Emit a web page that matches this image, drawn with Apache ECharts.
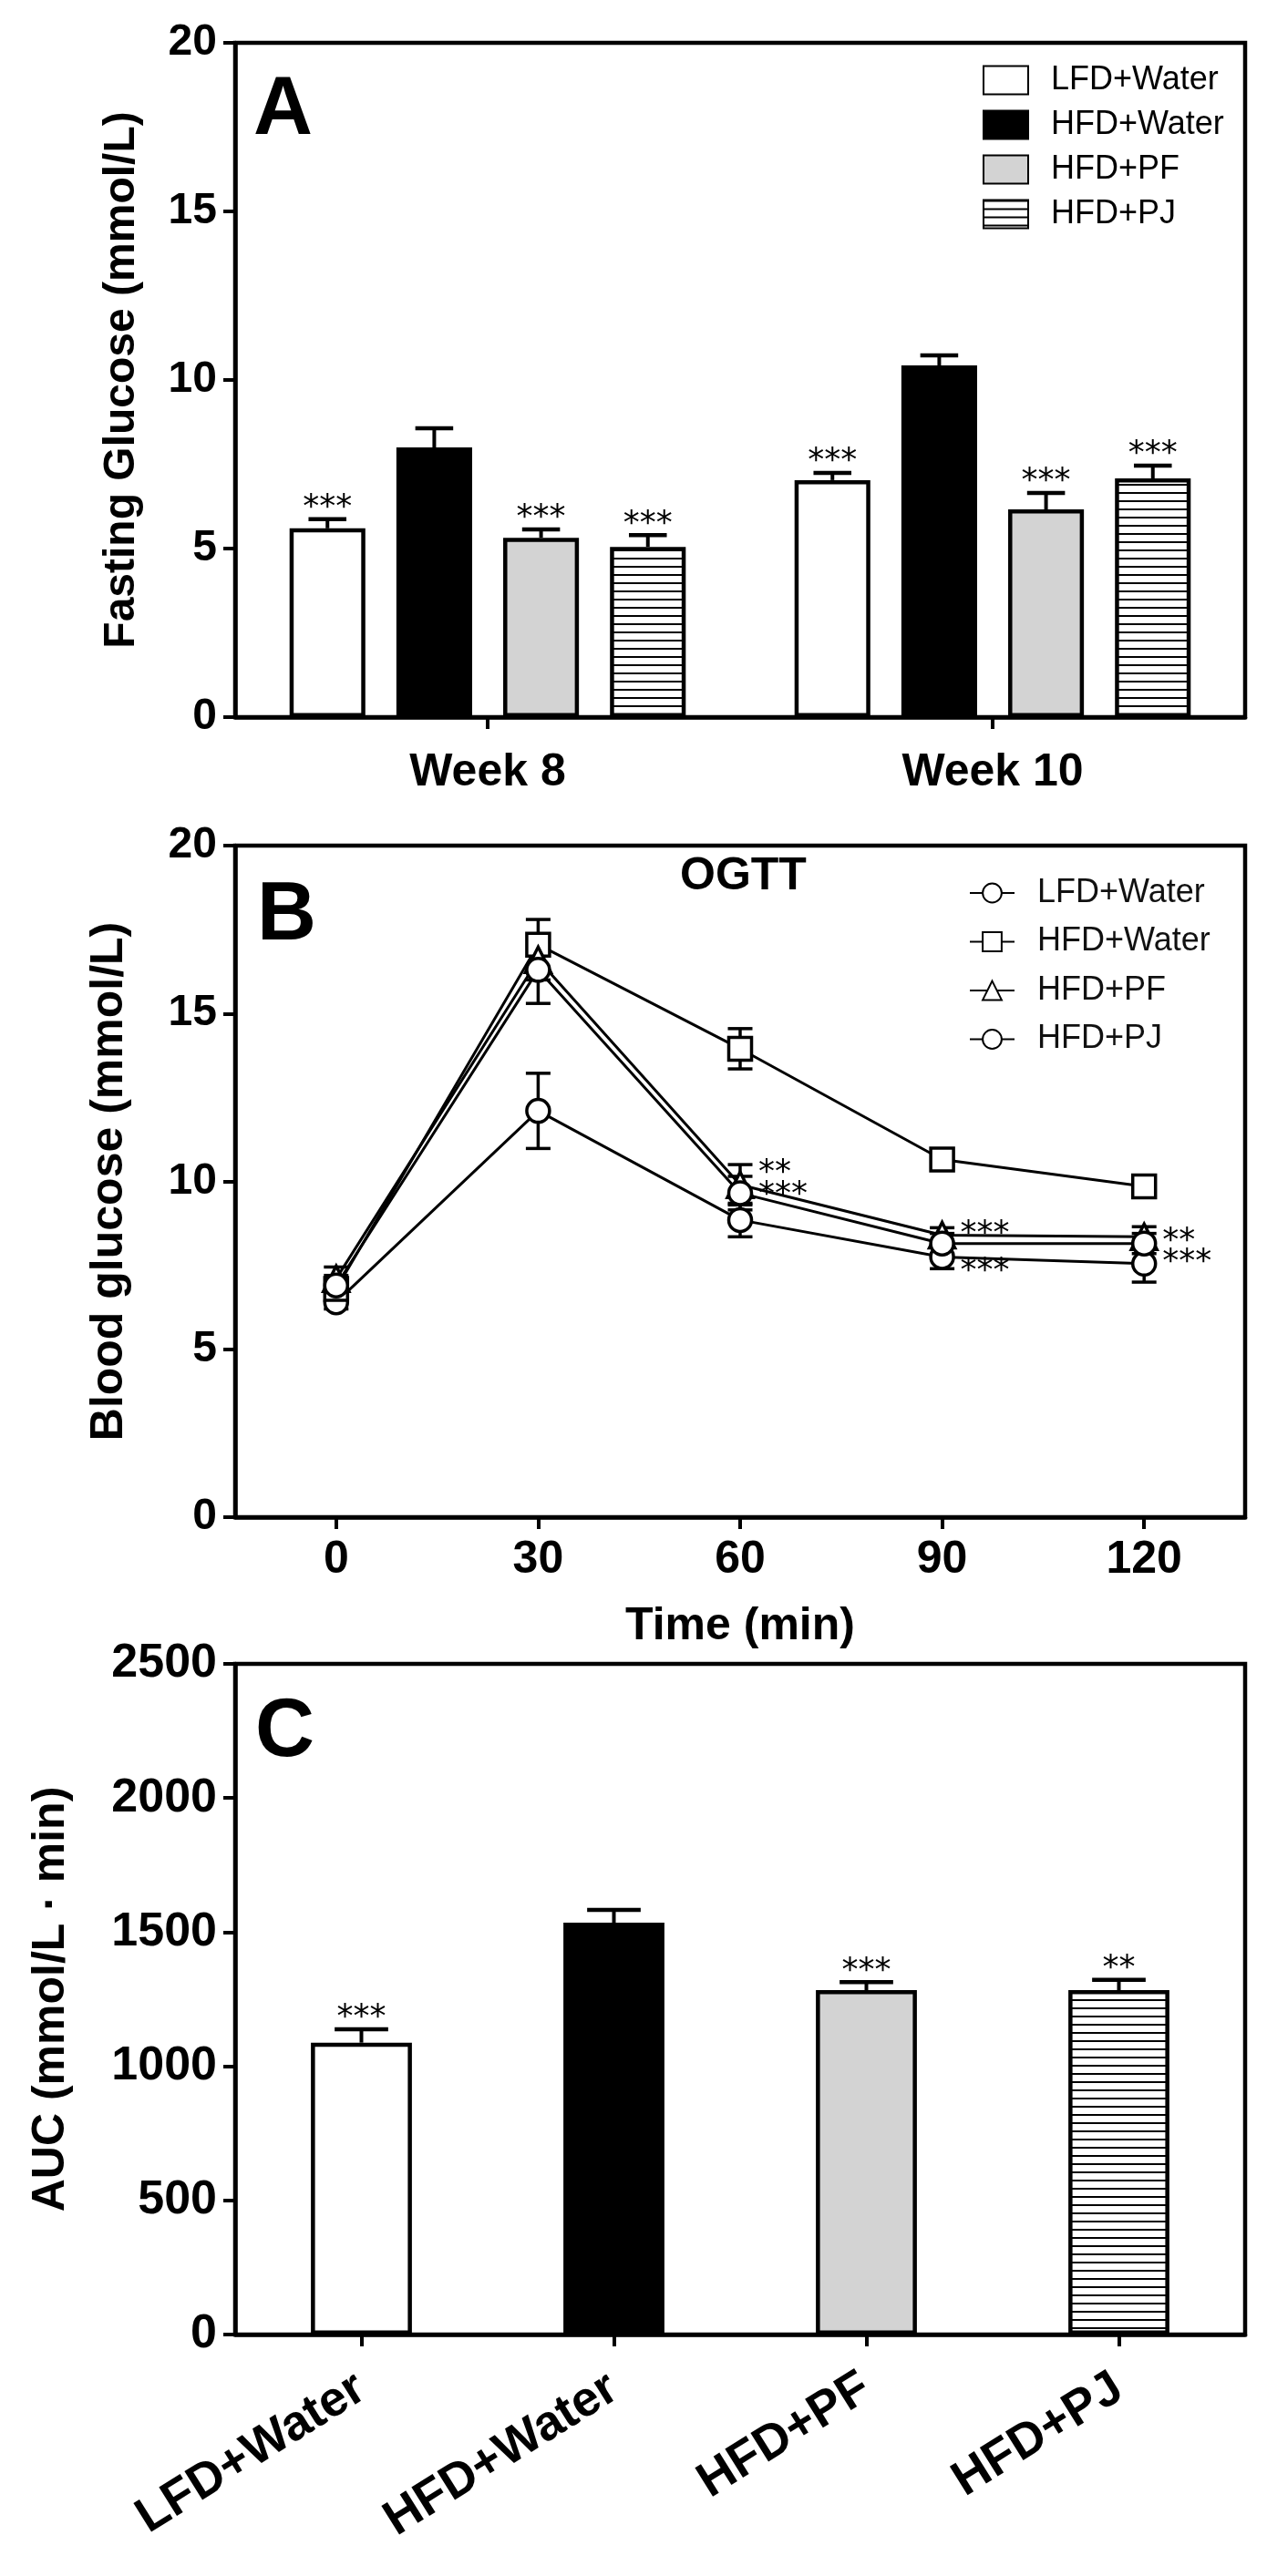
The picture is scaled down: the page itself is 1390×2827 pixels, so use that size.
<!DOCTYPE html>
<html><head><meta charset="utf-8">
<script src="https://cdn.jsdelivr.net/npm/echarts@6/dist/echarts.min.js"></script>
<style>
html,body{margin:0;padding:0;background:#fff;}
#wrap{position:relative;width:1390px;height:2827px;overflow:hidden;}
.ch{position:absolute;left:0;width:1390px;}
</style></head><body>
<div id="wrap">
<div id="cA" class="ch" style="top:0;height:900px"></div>
<div id="cB" class="ch" style="top:880px;height:960px"></div>
<div id="cC" class="ch" style="top:1780px;height:1047px"></div>
</div>
<script>
// ---------- DATA ----------
const groups = ['LFD+Water', 'HFD+Water', 'HFD+PF', 'HFD+PJ'];
const weeks = ['Week 8', 'Week 10'];
// Panel A: fasting glucose (mmol/L), [Week 8, Week 10]
const fgLFD = [5.60, 7.03];
const fgHFD = [8.00, 10.43];
const fgPF  = [5.32, 6.16];
const fgPJ  = [5.05, 7.08];
const fgErrLFD = [0.27, 0.21];
const fgErrHFD = [0.57, 0.30];
const fgErrPF  = [0.25, 0.49];
const fgErrPJ  = [0.35, 0.38];
const fgStarsLFD = ['***', '***'];
const fgStarsHFD = ['', ''];
const fgStarsPF  = ['***', '***'];
const fgStarsPJ  = ['***', '***'];
const fgTicks = [0, 5, 10, 15, 20];
// Panel B: OGTT blood glucose (mmol/L)
const ogttTime = [0, 30, 60, 90, 120];
const ogLFD = [6.40, 12.10, 8.85, 7.75, 7.55];
const ogHFD = [6.80, 17.05, 13.95, 10.65, 9.85];
const ogPF  = [7.10, 16.60, 9.90, 8.40, 8.35];
const ogPJ  = [6.90, 16.30, 9.65, 8.15, 8.15];
const ogErrLFD = [0.20, 1.12, 0.50, 0.35, 0.55];
const ogErrHFD = [0.30, 0.75, 0.60, 0.20, 0.20];
const ogErrPF  = [0.35, 0.60, 0.60, 0.22, 0.30];
const ogErrPJ  = [0.30, 1.00, 0.50, 0.30, 0.30];
const ogStarTime  = [60, 60, 90, 90, 120, 120];
const ogStarLevel = [10.45, 9.80, 8.63, 7.53, 8.41, 7.79];
const ogStarText  = ['**', '***', '***', '***', '**', '***'];
const timeTicks = [0, 30, 60, 90, 120];
// Panel C: AUC (mmol/L·min)
const aucMean = [1088, 1535, 1284, 1284];
const aucErr  = [50, 48, 30, 38];
const aucStars = ['***', '', '***', '**'];
const aucTicks = [0, 500, 1000, 1500, 2000, 2500];

// ---------- STYLE ----------
const FONT = "'Liberation Sans', Arial, Helvetica, sans-serif";
const STAR_FONT = "36px 'DejaVu Sans', sans-serif";
function stripes() {
  const c = document.createElement('canvas');
  c.width = 8; c.height = 9;
  const g = c.getContext('2d');
  g.fillStyle = '#fff'; g.fillRect(0, 0, 8, 9);
  g.fillStyle = '#000'; g.fillRect(0, 0, 8, 2);
  return c;
}
const fills = ['#ffffff', '#000000', '#d3d3d3', { image: stripes(), repeat: 'repeat' }];
const symbols = ['circle', 'rect', 'triangle', 'circle'];

const axisLine = { show: true, onZero: false, lineStyle: { color: '#000', width: 4.5 } };
const axisTick = { show: true, length: 13, lineStyle: { color: '#000', width: 4 } };
const gridBox = { show: true, borderColor: '#000', borderWidth: 4.5, backgroundColor: 'transparent' };
function yLabel(size) { return { fontFamily: FONT, fontWeight: 'bold', fontSize: size, color: '#000', margin: 20, formatter: v => String(v) }; }
function nameStyle(size) { return { fontFamily: FONT, fontWeight: 'bold', fontSize: size, color: '#000' }; }
function letter(t, l, tp) {
  return { text: t, left: l, top: tp, textStyle: { fontFamily: FONT, fontWeight: 'bold', fontSize: 90, color: '#000' } };
}

// ---------- PANEL A ----------
const fgMeans = [fgLFD, fgHFD, fgPF, fgPJ];
const fgErrs = [fgErrLFD, fgErrHFD, fgErrPF, fgErrPJ];
const fgStars = [fgStarsLFD, fgStarsHFD, fgStarsPF, fgStarsPJ];
const BW_A = 0.15, GAP_A = 0.41;
const errRowsA = [];
weeks.forEach((w, wi) => groups.forEach((g, gi) => {
  errRowsA.push([wi, fgMeans[gi][wi], fgErrs[gi][wi], gi, fgStars[gi][wi]]);
}));
function renderErrA(params, api) {
  const r = errRowsA[params.dataIndex];
  const band = api.size([1, 0])[0];
  const bw = band * BW_A, gap = bw * GAP_A, total = 4 * bw + 3 * gap;
  const c0 = api.coord([r[0], 0])[0];
  const cx = c0 - total / 2 + bw / 2 + r[3] * (bw + gap);
  const yv = api.coord([r[0], r[1]])[1];
  const ye = api.coord([r[0], r[1] + r[2]])[1];
  const cap = bw * 0.5;
  const ch = [
    { type: 'line', shape: { x1: cx, y1: yv, x2: cx, y2: ye }, style: { stroke: '#000', lineWidth: 4 } },
    { type: 'line', shape: { x1: cx - cap / 2, y1: ye, x2: cx + cap / 2, y2: ye }, style: { stroke: '#000', lineWidth: 4.5 } }
  ];
  if (r[4]) ch.push({ type: 'text', style: { text: r[4], x: cx, y: ye - 12, align: 'center', verticalAlign: 'middle', font: STAR_FONT, fill: '#000' } });
  return { type: 'group', children: ch };
}
const chartA = echarts.init(document.getElementById('cA'));
chartA.setOption({
  animation: false,
  title: [letter('A', 273, 72)],
  legend: {
    data: groups, orient: 'vertical', left: 1073, top: 65, itemWidth: 49, itemHeight: 31, itemGap: 13,
    icon: 'rect', selectedMode: false,
    textStyle: { fontFamily: FONT, fontSize: 36, color: '#000', padding: [0, 0, 0, 20], lineHeight: 31 }
  },
  grid: Object.assign({ left: 258, top: 47, width: 1108, height: 740 }, gridBox),
  xAxis: {
    type: 'category', data: weeks, axisLine, axisTick: Object.assign({ alignWithLabel: true }, axisTick),
    axisLabel: { fontFamily: FONT, fontWeight: 'bold', fontSize: 50, color: '#000', margin: 36 }
  },
  yAxis: {
    type: 'value', min: fgTicks[0], max: fgTicks[fgTicks.length - 1], interval: 5,
    axisLine, axisTick, splitLine: { show: false }, axisLabel: yLabel(48),
    name: 'Fasting Glucose (mmol/L)', nameLocation: 'middle', nameRotate: 90, nameGap: 100, nameTextStyle: nameStyle(48)
  },
  series: groups.map((g, i) => ({
    type: 'bar', name: g, data: fgMeans[i], barWidth: '15%', barGap: '41%',
    itemStyle: { color: fills[i], borderColor: '#000', borderWidth: 4.5 }, z: 2
  })).concat([{
    type: 'custom', name: 'errA', renderItem: renderErrA, data: errRowsA.map(r => [r[0], r[1] + r[2]]), z: 3
  }])
});

// ---------- PANEL B ----------
const ogMeans = [ogLFD, ogHFD, ogPF, ogPJ];
const ogErrs = [ogErrLFD, ogErrHFD, ogErrPF, ogErrPJ];
const errRowsB = [];
ogMeans.forEach((m, gi) => ogttTime.forEach((t, ti) => errRowsB.push([t, m[ti], ogErrs[gi][ti]])));
function renderErrB(params, api) {
  const r = errRowsB[params.dataIndex];
  const cx = api.coord([r[0], r[1]])[0];
  const y1 = api.coord([r[0], r[1] + r[2]])[1];
  const y2 = api.coord([r[0], r[1] - r[2]])[1];
  const cap = 27;
  const st = { stroke: '#000', lineWidth: 3.5 };
  return { type: 'group', children: [
    { type: 'line', shape: { x1: cx, y1: y1, x2: cx, y2: y2 }, style: st },
    { type: 'line', shape: { x1: cx - cap / 2, y1: y1, x2: cx + cap / 2, y2: y1 }, style: st },
    { type: 'line', shape: { x1: cx - cap / 2, y1: y2, x2: cx + cap / 2, y2: y2 }, style: st }
  ] };
}
function renderStarsB(params, api) {
  const i = params.dataIndex;
  const p = api.coord([ogStarTime[i], ogStarLevel[i]]);
  return { type: 'text', style: { text: ogStarText[i], x: p[0] + 20, y: p[1] + 8, align: 'left', verticalAlign: 'middle', font: STAR_FONT, fill: '#000' } };
}
const chartB = echarts.init(document.getElementById('cB'));
chartB.setOption({
  animation: false,
  title: [letter('B', 277, 76), { text: 'OGTT', left: 741, top: 52, textStyle: { fontFamily: FONT, fontWeight: 'bold', fontSize: 50, color: '#000' } }],
  legend: {
    data: groups, orient: 'vertical', left: 1058, top: 77, itemWidth: 49, itemHeight: 26, itemGap: 17.5,
    selectedMode: false,
    textStyle: { fontFamily: FONT, fontSize: 36, color: '#111', padding: [0, 0, 0, 20], lineHeight: 26 }
  },
  grid: Object.assign({ left: 258, top: 48, width: 1108, height: 737 }, gridBox),
  xAxis: {
    type: 'value', min: -15, max: 135, axisLine, splitLine: { show: false },
    axisTick: Object.assign({ customValues: timeTicks }, axisTick),
    axisLabel: { customValues: timeTicks, fontFamily: FONT, fontWeight: 'bold', fontSize: 50, color: '#000', margin: 22 },
    name: 'Time (min)', nameLocation: 'middle', nameGap: 95, nameTextStyle: nameStyle(50)
  },
  yAxis: {
    type: 'value', min: 0, max: 20, interval: 5, axisLine, axisTick, splitLine: { show: false }, axisLabel: yLabel(48),
    name: 'Blood glucose (mmol/L)', nameLocation: 'middle', nameRotate: 90, nameGap: 113, nameTextStyle: nameStyle(50)
  },
  series: [{
    type: 'custom', name: 'errB', renderItem: renderErrB, data: errRowsB.map(r => [r[0], r[1]]), z: 2
  }].concat(groups.map((g, i) => ({
    type: 'line', name: g, data: ogttTime.map((t, k) => [t, ogMeans[i][k]]),
    symbol: symbols[i], symbolSize: symbols[i] === 'triangle' ? 28 : 25,
    lineStyle: { color: '#000', width: 3 },
    itemStyle: { color: '#fff', borderColor: '#000', borderWidth: 3.5 }, z: 3
  }))).concat([{
    type: 'custom', name: 'starsB', renderItem: renderStarsB, data: ogStarTime.map((t, i) => [t, ogStarLevel[i]]), z: 4
  }])
});

// ---------- PANEL C ----------
function renderErrC(params, api) {
  const i = params.dataIndex;
  const band = api.size([1, 0])[0];
  const bw = band * 0.4;
  const cx = api.coord([i, 0])[0];
  const yv = api.coord([i, aucMean[i]])[1];
  const ye = api.coord([i, aucMean[i] + aucErr[i]])[1];
  const cap = bw * 0.53;
  const ch = [
    { type: 'line', shape: { x1: cx, y1: yv, x2: cx, y2: ye }, style: { stroke: '#000', lineWidth: 4 } },
    { type: 'line', shape: { x1: cx - cap / 2, y1: ye, x2: cx + cap / 2, y2: ye }, style: { stroke: '#000', lineWidth: 4.5 } }
  ];
  if (aucStars[i]) ch.push({ type: 'text', style: { text: aucStars[i], x: cx, y: ye - 12, align: 'center', verticalAlign: 'middle', font: STAR_FONT, fill: '#000' } });
  return { type: 'group', children: ch };
}
const chartC = echarts.init(document.getElementById('cC'));
chartC.setOption({
  animation: false,
  title: [letter('C', 275, 72)],
  grid: Object.assign({ left: 258, top: 46, width: 1108, height: 736 }, gridBox),
  xAxis: {
    type: 'category', data: groups, axisLine, axisTick: Object.assign({ alignWithLabel: true }, axisTick),
    axisLabel: { rotate: 32, fontFamily: FONT, fontWeight: 'bold', fontSize: 54, color: '#000', margin: 55, interval: 0 }
  },
  yAxis: {
    type: 'value', min: aucTicks[0], max: aucTicks[aucTicks.length - 1], interval: 500,
    axisLine, axisTick, splitLine: { show: false }, axisLabel: yLabel(52),
    name: 'AUC (mmol/L · min)', nameLocation: 'middle', nameRotate: 90, nameGap: 177, nameTextStyle: nameStyle(50)
  },
  series: [{
    type: 'bar', name: 'AUC', barWidth: '40%',
    data: aucMean.map((v, i) => ({ value: v, itemStyle: { color: fills[i] } })),
    itemStyle: { borderColor: '#000', borderWidth: 4.5 }, z: 2
  }, {
    type: 'custom', name: 'errC', renderItem: renderErrC, data: aucMean.map((v, i) => [i, v + aucErr[i]]), z: 3
  }]
});
</script>
</body></html>
